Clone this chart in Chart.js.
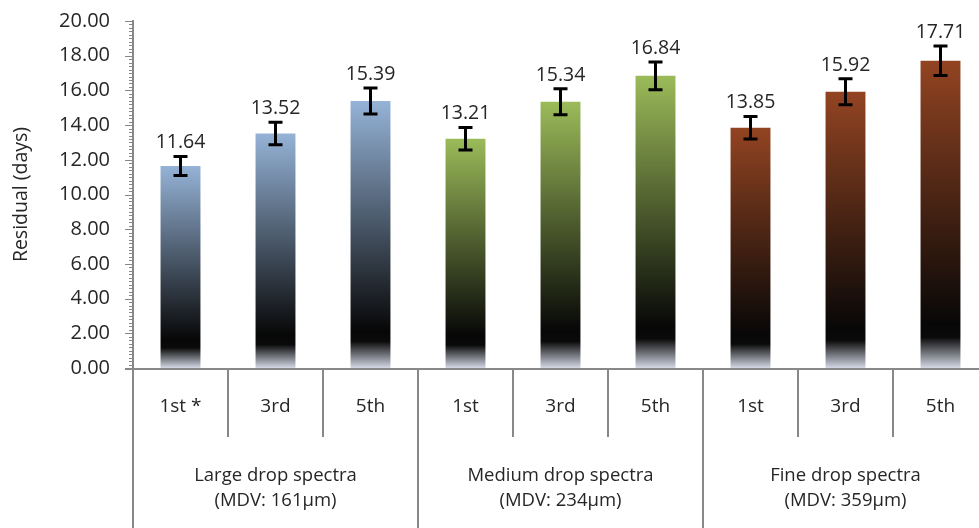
<!DOCTYPE html>
<html>
<head>
<meta charset="utf-8">
<script src="https://cdn.jsdelivr.net/npm/chart.js@4.4.1/dist/chart.umd.min.js"></script>
<style>
  html, body { margin: 0; padding: 0; background: #fff; overflow: hidden; }
  #chart { display: block; }
</style>
</head>
<body>
<canvas id="chart" width="988" height="528"></canvas>
<script>
// ----------------- Data -----------------
const subLabels = ['1st *', '3rd', '5th', '1st', '3rd', '5th', '1st', '3rd', '5th'];
const groupLines = [
  ['Large drop spectra', '(MDV: 161\u00b5m)'],
  ['Medium drop spectra', '(MDV: 234\u00b5m)'],
  ['Fine drop spectra', '(MDV: 359\u00b5m)']
];
const residual = [11.64, 13.52, 15.39, 13.21, 15.34, 16.84, 13.85, 15.92, 17.71];
const errorSize = [0.55, 0.65, 0.75, 0.65, 0.75, 0.8, 0.65, 0.75, 0.85];
const yTicks = [0, 2, 4, 6, 8, 10, 12, 14, 16, 18, 20];

const groupColors = ['#95b3d7', '#9bbb59', '#934422'];
const FONT = '"Open Sans", "Liberation Sans", sans-serif';
const TEXT = '#262626';
const AXIS = '#888888';

// gradient per bar: colour at the top, black near the base, pale at the very bottom
function barFill(context) {
  const chart = context.chart;
  const i = context.dataIndex;
  const color = groupColors[Math.floor(i / 3)];
  if (!chart.chartArea) return color;
  const y = chart.scales.y;
  const top = y.getPixelForValue(residual[i]);
  const base = y.getPixelForValue(0);
  const g = chart.ctx.createLinearGradient(0, top, 0, base);
  g.addColorStop(0, color);
  g.addColorStop(0.86, '#070707');
  g.addColorStop(0.9, '#0a0a0a');
  g.addColorStop(1, '#d4d9e6');
  return g;
}

// ----------------- Plugins -----------------
const extras = {
  id: 'extras',
  afterDatasetsDraw(chart) {
    const { ctx, chartArea } = chart;
    const x = chart.scales.x;
    const y = chart.scales.y;

    ctx.save();
    // error bars + value labels
    residual.forEach((v, i) => {
      const cx = x.getPixelForValue(i);
      const hi = y.getPixelForValue(v + errorSize[i]);
      const lo = y.getPixelForValue(v - errorSize[i]);
      ctx.strokeStyle = '#000';
      ctx.lineWidth = 3;
      ctx.beginPath();
      ctx.moveTo(cx, hi); ctx.lineTo(cx, lo);
      ctx.moveTo(cx - 7, hi); ctx.lineTo(cx + 7, hi);
      ctx.moveTo(cx - 7, lo); ctx.lineTo(cx + 7, lo);
      ctx.stroke();

      ctx.fillStyle = TEXT;
      ctx.font = '19.5px ' + FONT;
      ctx.textAlign = 'center';
      ctx.textBaseline = 'bottom';
      ctx.fillText(v.toFixed(2), cx, hi - 4);
    });

    // y axis ticks (major + minor)
    ctx.strokeStyle = AXIS;
    ctx.lineWidth = 1;
    const left = chartArea.left;
    for (let k = 0; k <= 100; k++) {
      const py = Math.round(y.getPixelForValue(k * 0.2)) + 0.5;
      const len = k % 10 === 0 ? 8 : 4;
      ctx.beginPath();
      ctx.moveTo(left - len, py); ctx.lineTo(left, py);
      ctx.stroke();
    }

    // category axis: separators and two label rows
    const bottom = chartArea.bottom;
    const step = (chartArea.right - chartArea.left) / subLabels.length;
    ctx.lineWidth = 2;
    for (let i = 0; i <= subLabels.length; i++) {
      const px = chartArea.left + i * step;
      ctx.beginPath();
      ctx.moveTo(px, bottom);
      ctx.lineTo(px, i % 3 === 0 ? chart.height : bottom + 69);
      ctx.stroke();
    }
    ctx.fillStyle = TEXT;
    ctx.textAlign = 'center';
    ctx.textBaseline = 'middle';
    ctx.font = '19px ' + FONT;
    subLabels.forEach((lab, i) => {
      ctx.fillText(lab, x.getPixelForValue(i), bottom + 39);
    });
    ctx.font = '18.5px ' + FONT;
    groupLines.forEach((lines, gi) => {
      const gx = chartArea.left + (gi * 3 + 1.5) * step;
      lines.forEach((t, li) => ctx.fillText(t, gx, bottom + 108 + li * 25));
    });

    // horizontal axis line
    ctx.strokeStyle = AXIS;
    ctx.lineWidth = 2;
    ctx.beginPath();
    ctx.moveTo(left - 8, bottom + 1);
    ctx.lineTo(chartArea.right, bottom + 1);
    ctx.stroke();
    ctx.restore();
  }
};

// ----------------- Chart -----------------
new Chart(document.getElementById('chart'), {
  type: 'bar',
  data: {
    labels: subLabels,
    datasets: [{
      data: residual,
      backgroundColor: barFill,
      borderWidth: 0,
      categoryPercentage: 1,
      barPercentage: 0.42
    }]
  },
  options: {
    responsive: false,
    maintainAspectRatio: false,
    animation: false,
    devicePixelRatio: 1,
    layout: { padding: { top: 21, bottom: 160, right: 0, left: 0 } },
    plugins: { legend: { display: false }, tooltip: { enabled: false } },
    scales: {
      x: { display: false },
      y: {
        min: 0,
        max: 20,
        afterFit(s) { s.width = 133; s.paddingTop = 0; s.paddingBottom = 0; },
        afterBuildTicks(s) { s.ticks = yTicks.map(v => ({ value: v })); },
        grid: { display: false, drawTicks: false },
        border: { display: true, color: AXIS, width: 2 },
        ticks: {
          padding: 23,
          color: TEXT,
          font: { family: FONT, size: 20 },
          callback: v => Number(v).toFixed(2)
        },
        title: {
          display: true,
          text: 'Residual (days)',
          color: TEXT,
          font: { family: FONT, size: 19.5 },
          padding: { top: 10, bottom: 0 }
        }
      }
    }
  },
  plugins: [extras]
});
</script>
</body>
</html>
